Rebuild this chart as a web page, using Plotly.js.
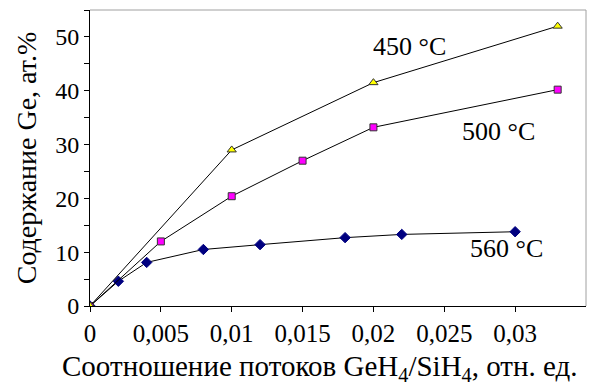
<!DOCTYPE html>
<html><head><meta charset="utf-8">
<script src="https://cdn.plot.ly/plotly-3.0.1.min.js"></script>
<style>body{margin:0;background:#fff}#c{width:590px;height:387px}</style>
</head><body><div id="c"></div>
<script>
const x450 = [0, 0.01, 0.02, 0.033];
const y450 = [0, 29, 41.5, 52];
const x500 = [0, 0.005, 0.01, 0.015, 0.02, 0.033];
const y500 = [0, 12, 20.4, 27, 33.2, 40.2];
const x560 = [0, 0.002, 0.004, 0.008, 0.012, 0.018, 0.022, 0.03];
const y560 = [0, 4.6, 8.1, 10.5, 11.4, 12.7, 13.3, 13.8];
const xTicks = [0, 0.005, 0.01, 0.015, 0.02, 0.025, 0.03];
const xTickText = ["0", "0,005", "0,01", "0,015", "0,02", "0,025", "0,03"];
const yTicks = [0, 10, 20, 30, 40, 50];
const seriesLabels = ["450 °C", "500 °C", "560 °C"];
const xTitle = "Соотношение потоков GeH<sub>4</sub>/SiH<sub>4</sub>, отн. ед.";
const yTitle = "Содержание Ge, ат.%";

const F = "Liberation Serif";
const traces = [
  {x: x560, y: y560, mode: "lines+markers", line: {color: "#000", width: 1},
   marker: {symbol: "diamond", size: 8, color: "#000080", line: {color: "#000080", width: 1}}},
  {x: x500, y: y500, mode: "lines+markers", line: {color: "#000", width: 1},
   marker: {symbol: "square", size: 7, color: "#ff00ff", line: {color: "#333", width: 1}}},
  {x: x450, y: y450, mode: "lines+markers", line: {color: "#000", width: 1},
   marker: {symbol: "triangle-up", size: 8, color: "#ffff00", line: {color: "#333", width: 1}}}
];
const layout = {
  width: 590, height: 387, showlegend: false,
  paper_bgcolor: "#fff", plot_bgcolor: "#fff",
  margin: {l: 90, r: 4, t: 10, b: 81},
  font: {family: F, size: 24, color: "#000"},
  xaxis: {range: [0, 0.035], tickvals: xTicks, ticktext: xTickText, ticks: "outside", ticklen: 5,
    tickcolor: "#000", showline: true, linecolor: "#000", linewidth: 1, showgrid: false, zeroline: false,
    tickfont: {family: F, size: 25, color: "#000"}},
  yaxis: {range: [0, 55], tickvals: yTicks, ticks: "outside", ticklen: 5, tickcolor: "#000",
    showline: true, linecolor: "#000", linewidth: 1, showgrid: false, zeroline: false,
    tickfont: {family: F, size: 24, color: "#000"},
    minor: {tickvals: [5, 15, 25, 35, 45, 55], ticks: "outside", ticklen: 5, tickcolor: "#000"},
    title: {text: yTitle, font: {family: F, size: 28, color: "#000"}, standoff: 10}},
  shapes: [
    {type: "line", xref: "paper", yref: "paper", x0: 0, x1: 1, y0: 1, y1: 1, line: {color: "#a0a0a0", width: 1}},
    {type: "line", xref: "paper", yref: "paper", x0: 1, x1: 1, y0: 0, y1: 1, line: {color: "#a0a0a0", width: 1}}
  ],
  annotations: [
    {x: 0.02257, y: 48.2, text: seriesLabels[0], showarrow: false, font: {family: F, size: 26, color: "#000"}},
    {x: 0.02884, y: 32.4, text: seriesLabels[1], showarrow: false, font: {family: F, size: 26, color: "#000"}},
    {x: 0.0294, y: 10.6, text: seriesLabels[2], showarrow: false, font: {family: F, size: 26, color: "#000"}},
    {xref: "paper", yref: "paper", x: 0.4637, y: -0.211, xanchor: "center", yanchor: "middle",
     text: xTitle, showarrow: false, font: {family: F, size: 29, color: "#000"}}
  ]
};
Plotly.newPlot("c", traces, layout, {displayModeBar: false, staticPlot: true});
</script></body></html>
